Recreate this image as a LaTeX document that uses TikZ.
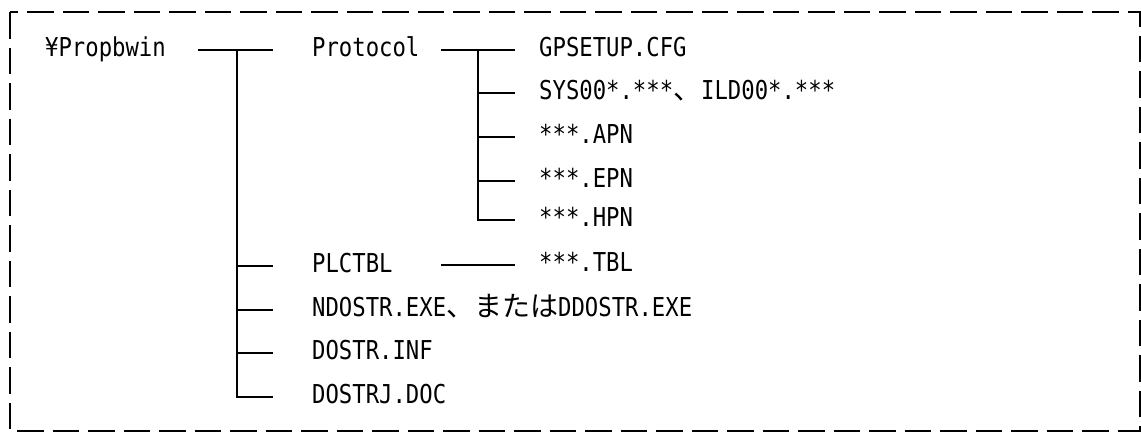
\documentclass[tikz,border=0pt]{standalone}
\usepackage{fontspec}
\newfontfamily\mono[FakeStretch=0.856]{DejaVu Sans Mono}
\newfontfamily\jpfam{Noto Sans CJK JP}
\newcommand\jp{\fontsize{28}{26}\selectfont\jpfam}
\tikzset{
  lbl/.style={anchor=base west, inner sep=0pt, font=\fontsize{26}{26}\selectfont\mono},
  tline/.style={line width=2pt},
  frame/.style={line width=2pt, dash pattern=on 26.5pt off 9pt}
}
\begin{document}
\begin{tikzpicture}[x=1pt,y=-1pt]
\useasboundingbox (0,0) rectangle (1141,432);
\draw[frame] (10,12) rectangle (1139.5,430.8);

% texts
\node[lbl] (root) at (45,56) {¥Propbwin};
\node[lbl] (proto) at (312,56) {Protocol};
\node[lbl] (gp) at (539,56) {GPSETUP.CFG};
\node[lbl] (sys) at (539,99) {SYS00*.***{\jp 、}ILD00*.***};
\node[lbl] (apn) at (539,143) {***.APN};
\node[lbl] (epn) at (539,187) {***.EPN};
\node[lbl] (hpn) at (539,226) {***.HPN};
\node[lbl] (plc) at (312,272) {PLCTBL};
\node[lbl] (tbl) at (539,271) {***.TBL};
\node[lbl] (nd) at (312,316) {NDOSTR.EXE{\jp 、または}DDOSTR.EXE};
\node[lbl] (inf) at (312,359) {DOSTR.INF};
\node[lbl] (doc) at (312,403) {DOSTRJ.DOC};

% junction coordinates, level 1
\coordinate (r0) at (198,50);
\coordinate (t0) at (236.5,50);
\coordinate (t1) at (272.5,50);
\coordinate (tplc) at (236.5,266);
\coordinate (tnd) at (236.5,310);
\coordinate (tinf) at (236.5,353);
\coordinate (tdoc) at (236.5,397);
\coordinate (eplc) at (272.5,266);
\coordinate (end) at (272.5,310);
\coordinate (einf) at (272.5,353);
\coordinate (edoc) at (272.5,397);

% level 2 (Protocol)
\coordinate (p0) at (441,50);
\coordinate (q0) at (478,50);
\coordinate (q1) at (515,50);
\coordinate (qsys) at (478,93);
\coordinate (qapn) at (478,137);
\coordinate (qepn) at (478,181);
\coordinate (qhpn) at (478,220);
\coordinate (esys) at (515,93);
\coordinate (eapn) at (515,137);
\coordinate (eepn) at (515,181);
\coordinate (ehpn) at (515,220);

% PLCTBL
\coordinate (l0) at (441,265);
\coordinate (l1) at (515,265);

\draw[tline] (r0) -- (t1);
\draw[tline] (t0) -- (tdoc) -- (edoc);
\draw[tline] (tplc) -- (eplc);
\draw[tline] (tnd) -- (end);
\draw[tline] (tinf) -- (einf);

\draw[tline] (p0) -- (q1);
\draw[tline] (q0) -- (qhpn) -- (ehpn);
\draw[tline] (qsys) -- (esys);
\draw[tline] (qapn) -- (eapn);
\draw[tline] (qepn) -- (eepn);

\draw[tline] (l0) -- (l1);
\end{tikzpicture}
\end{document}
